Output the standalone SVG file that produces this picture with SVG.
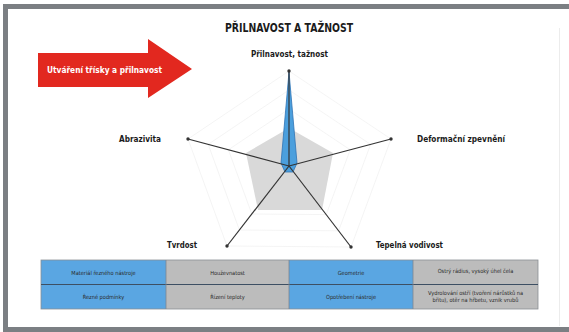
<svg xmlns="http://www.w3.org/2000/svg" width="569" height="332" viewBox="0 0 569 332">
  <style>
    .cond { font-family: "DejaVu Sans Condensed", "DejaVu Sans", "Liberation Sans", sans-serif; font-stretch: condensed; }
    .title { font-weight: bold; font-size: 13px; fill: #1b1b1b; }
    .axislbl { font-weight: bold; font-size: 9px; fill: #1b1b1b; }
    .cell { font-size: 5.6px; fill: #2a2a2a; text-anchor: middle; }
    .ring { fill: none; stroke: #f1f1f1; stroke-width: 0.8; }
    .axis { stroke: #333; stroke-width: 1.2; }
    .tip { fill: #333; }
    .blue { fill: #5aa6e2; }
    .grey { fill: #bcbcbc; }
  </style>

  <!-- frame -->
  <rect x="0" y="0" width="569" height="332" fill="#ffffff"/>
  <rect x="3" y="4" width="566" height="328" fill="#7b7f83"/>
  <rect x="8" y="9" width="561" height="318" fill="#ffffff"/>
  <line x1="559.5" y1="28" x2="559.5" y2="326" stroke="#ececec" stroke-width="1"/>

  <!-- title -->
  <g id="title">
    <text class="cond title" x="225" y="32" textLength="128" lengthAdjust="spacingAndGlyphs">PŘILNAVOST A TAŽNOST</text>
  </g>

  <!-- red arrow -->
  <g id="arrow">
    <polygon points="38,53 148,53 148,39 192,69 148,98 148,87 38,87" fill="#e2281f"/>
    <text class="cond" x="47" y="73" font-size="9" font-weight="bold" fill="#ffffff" textLength="115" lengthAdjust="spacingAndGlyphs">Utváření třísky a přilnavost</text>
  </g>

  <!-- radar grid -->
  <g id="grid">
    <polygon class="ring" points="289,71 391,139 351,247 227,246 188,139"/>
    <polygon class="ring" points="289,90 370.6,144.4 338.6,230.8 239.4,230 208.2,144.4"/>
    <polygon class="ring" points="289,109 350.2,149.8 326.2,214.6 251.8,214 228.4,149.8"/>
    <polygon points="289,128 333,153 322,210 258,210 246,153" fill="#d9d9d9"/>
  </g>

  <!-- data area -->
  <g id="data">
    <polygon points="289,72 297,163 293,172 285,172 281,163" fill="#4b9fdd" stroke="#2f74b5" stroke-width="0.8" stroke-linejoin="round"/>
  </g>

  <!-- axes -->
  <g id="connectors">
    <line class="axis" x1="289" y1="166" x2="289" y2="71"/>
    <line class="axis" x1="289" y1="166" x2="391" y2="139"/>
    <line class="axis" x1="289" y1="166" x2="351" y2="247"/>
    <line class="axis" x1="289" y1="166" x2="227" y2="246"/>
    <line class="axis" x1="289" y1="166" x2="188" y2="139"/>
    <circle class="tip" cx="289" cy="71" r="1.7"/>
    <circle class="tip" cx="391" cy="139" r="1.7"/>
    <circle class="tip" cx="351" cy="247" r="1.7"/>
    <circle class="tip" cx="227" cy="246" r="1.7"/>
    <circle class="tip" cx="188" cy="139" r="1.7"/>
  </g>

  <!-- axis labels -->
  <g id="node-prilnavost">
    <text class="cond axislbl" x="251" y="57" textLength="77" lengthAdjust="spacingAndGlyphs">Přilnavost, tažnost</text>
  </g>
  <g id="node-deformacni">
    <text class="cond axislbl" x="417" y="142" textLength="88" lengthAdjust="spacingAndGlyphs">Deformační zpevnění</text>
  </g>
  <g id="node-tepelna">
    <text class="cond axislbl" x="376" y="248" textLength="67" lengthAdjust="spacingAndGlyphs">Tepelná vodivost</text>
  </g>
  <g id="node-tvrdost">
    <text class="cond axislbl" x="167" y="248" textLength="30" lengthAdjust="spacingAndGlyphs">Tvrdost</text>
  </g>
  <g id="node-abrazivita">
    <text class="cond axislbl" x="119" y="142" textLength="42" lengthAdjust="spacingAndGlyphs">Abrazivita</text>
  </g>

  <!-- table -->
  <g id="table">
    <rect class="blue" x="41" y="260" width="125" height="49"/>
    <rect class="grey" x="166" y="260" width="123" height="49"/>
    <rect class="blue" x="289" y="260" width="124" height="49"/>
    <rect class="grey" x="413" y="260" width="125" height="49"/>
    <rect x="41" y="260" width="497" height="49" fill="none" stroke="#8a8f94" stroke-width="0.8"/>
    <line x1="41" y1="284.5" x2="538" y2="284.5" stroke="#3d4f63" stroke-width="1"/>
    <line x1="166" y1="260" x2="166" y2="309" stroke="#7d8790" stroke-width="0.8"/>
    <line x1="289" y1="260" x2="289" y2="309" stroke="#7d8790" stroke-width="0.8"/>
    <line x1="413" y1="260" x2="413" y2="309" stroke="#7d8790" stroke-width="0.8"/>

    <text class="cond cell" x="103.5" y="275">Materiál řezného nástroje</text>
    <text class="cond cell" x="227.5" y="275">Houževnatost</text>
    <text class="cond cell" x="351" y="275">Geometrie</text>
    <text class="cond cell" x="475.5" y="273">Ostrý rádius, vysoký úhel čela</text>

    <text class="cond cell" x="103.5" y="299">Řezné podmínky</text>
    <text class="cond cell" x="227.5" y="299">Řízení teploty</text>
    <text class="cond cell" x="351" y="299">Opotřebení nástroje</text>
    <text class="cond cell" x="475.5" y="295">Vydrolování ostří (tvoření nárůstků na</text>
    <text class="cond cell" x="475.5" y="302">břitu), otěr na hřbetu, vznik vrubů</text>
  </g>
</svg>
